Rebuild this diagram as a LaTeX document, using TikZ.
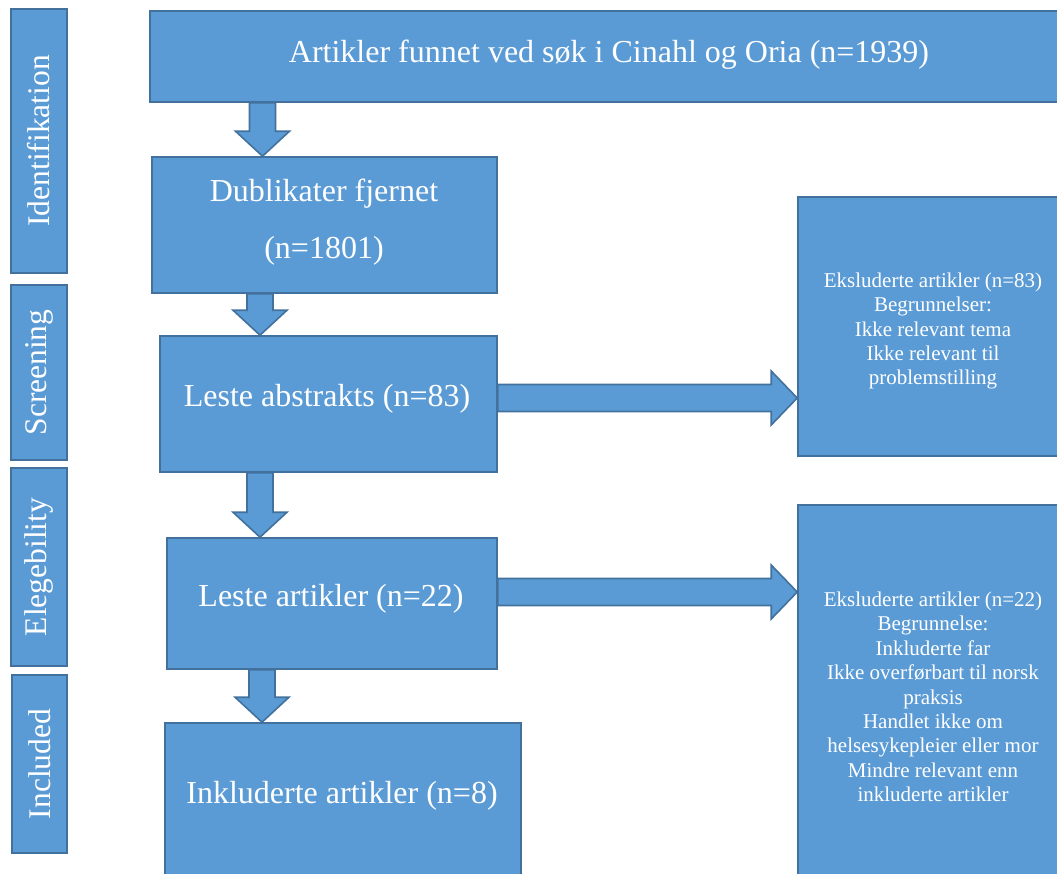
\documentclass[tikz,border=0pt]{standalone}
\usepackage{fontspec}
\setmainfont{Liberation Serif}
\usetikzlibrary{calc}
\definecolor{boxfill}{HTML}{5B9BD5}
\definecolor{boxline}{HTML}{41719C}
\tikzset{
  box/.style={draw=boxline, fill=boxfill, line width=1.6pt, inner sep=0pt, text=white},
  blk/.style={draw=boxline, fill=boxfill, line width=1.6pt, line join=miter},
  bigtxt/.style={text=white, font=\fontsize{32}{36}\selectfont, align=center, inner sep=0pt},
  smalltxt/.style={text=white, font=\fontsize{21}{24.4}\selectfont, align=center, inner sep=0pt},
  sidetxt/.style={text=white, font=\fontsize{31.5}{36}\selectfont, rotate=90, inner sep=0pt}
}
\newcommand{\blkdown}[3]{%
  \path[blk] let \p1=(#1 |- #2.south), \p2=(#1 |- #3.north) in
    (\x1-13pt,\y1) -- (\x1-13pt,\y2+25pt) -- (\x1-27pt,\y2+25pt) -- (\x1,\y2)
    -- (\x1+27pt,\y2+25pt) -- (\x1+13pt,\y2+25pt) -- (\x1+13pt,\y1) -- cycle;}
\newcommand{\blkright}[3]{%
  \path[blk] let \p1=(#2.east |- #1), \p2=(#3.west |- #1) in
    (\x1,\y1+13.5pt) -- (\x2-26pt,\y1+13.5pt) -- (\x2-26pt,\y1+27pt) -- (\x2,\y1)
    -- (\x2-26pt,\y1-27pt) -- (\x2-26pt,\y1-13.5pt) -- (\x1,\y1-13.5pt) -- cycle;}
\begin{document}
\begin{tikzpicture}[x=1pt,y=-1pt]
\useasboundingbox (0,0) rectangle (1057,873);
% arrow guide coordinates
\coordinate (c1) at (262.5,0);
\coordinate (c2) at (260,0);
\coordinate (c3) at (260,0);
\coordinate (c4) at (262,0);
\coordinate (r1) at (0,398);
\coordinate (r2) at (0,592);
% side labels
\node[box, minimum width=56pt, minimum height=264pt] (s1) at (39,141) {};
\node[sidetxt] (s1t) at (s1.center) {Identifikation};
\node[box, minimum width=56pt, minimum height=175pt] (s2) at (39,372.5) {};
\node[sidetxt] (s2t) at (s2.center) {Screening};
\node[box, minimum width=56pt, minimum height=198pt] (s3) at (39,567) {};
\node[sidetxt] (s3t) at (s3.center) {Elegebility};
\node[box, minimum width=55pt, minimum height=178pt] (s4) at (39.5,764) {};
\node[sidetxt] (s4t) at (s4.center) {Included};
% main boxes (geometry)
\path (609,56.5) node[box, minimum width=918pt, minimum height=91pt] (top) {};
\path (324.5,225) node[box, minimum width=345pt, minimum height=136pt] (dup) {};
\path (328.5,404) node[box, minimum width=337pt, minimum height=136pt] (abs) {};
\path (332,603.5) node[box, minimum width=330pt, minimum height=131pt] (art) {};
\path (343,803) node[box, minimum width=356pt, minimum height=160pt] (inc) {};
\path (933,326.5) node[box, minimum width=270pt, minimum height=259pt] (ex1) {};
\path (933,694) node[box, minimum width=270pt, minimum height=378pt] (ex2) {};
% arrows
\blkdown{c1}{top}{dup}
\blkdown{c2}{dup}{abs}
\blkdown{c3}{abs}{art}
\blkdown{c4}{art}{inc}
\blkright{r1}{abs}{ex1}
\blkright{r2}{art}{ex2}
% texts
\node[bigtxt] (topt) at (609,55) {Artikler funnet ved søk i Cinahl og Oria (n=1939)};
\node[bigtxt, font=\fontsize{32}{57}\selectfont] (dupt) at (324,222) {Dublikater fjernet\\(n=1801)};
\node[bigtxt] (abst) at (327,398.5) {Leste abstrakts (n=83)};
\node[bigtxt] (artt) at (331,598.5) {Leste artikler (n=22)};
\node[bigtxt] (inct) at (342,795.5) {Inkluderte artikler (n=8)};
\node[smalltxt] (ex1t) at (933,331) {Eksluderte artikler (n=83)\\Begrunnelser:\\Ikke relevant tema\\Ikke relevant til\\problemstilling};
\node[smalltxt] (ex2t) at (933,697) {Eksluderte artikler (n=22)\\Begrunnelse:\\Inkluderte far\\Ikke overførbart til norsk\\praksis\\Handlet ikke om\\helsesykepleier eller mor\\Mindre relevant enn\\inkluderte artikler};
\end{tikzpicture}
\end{document}
